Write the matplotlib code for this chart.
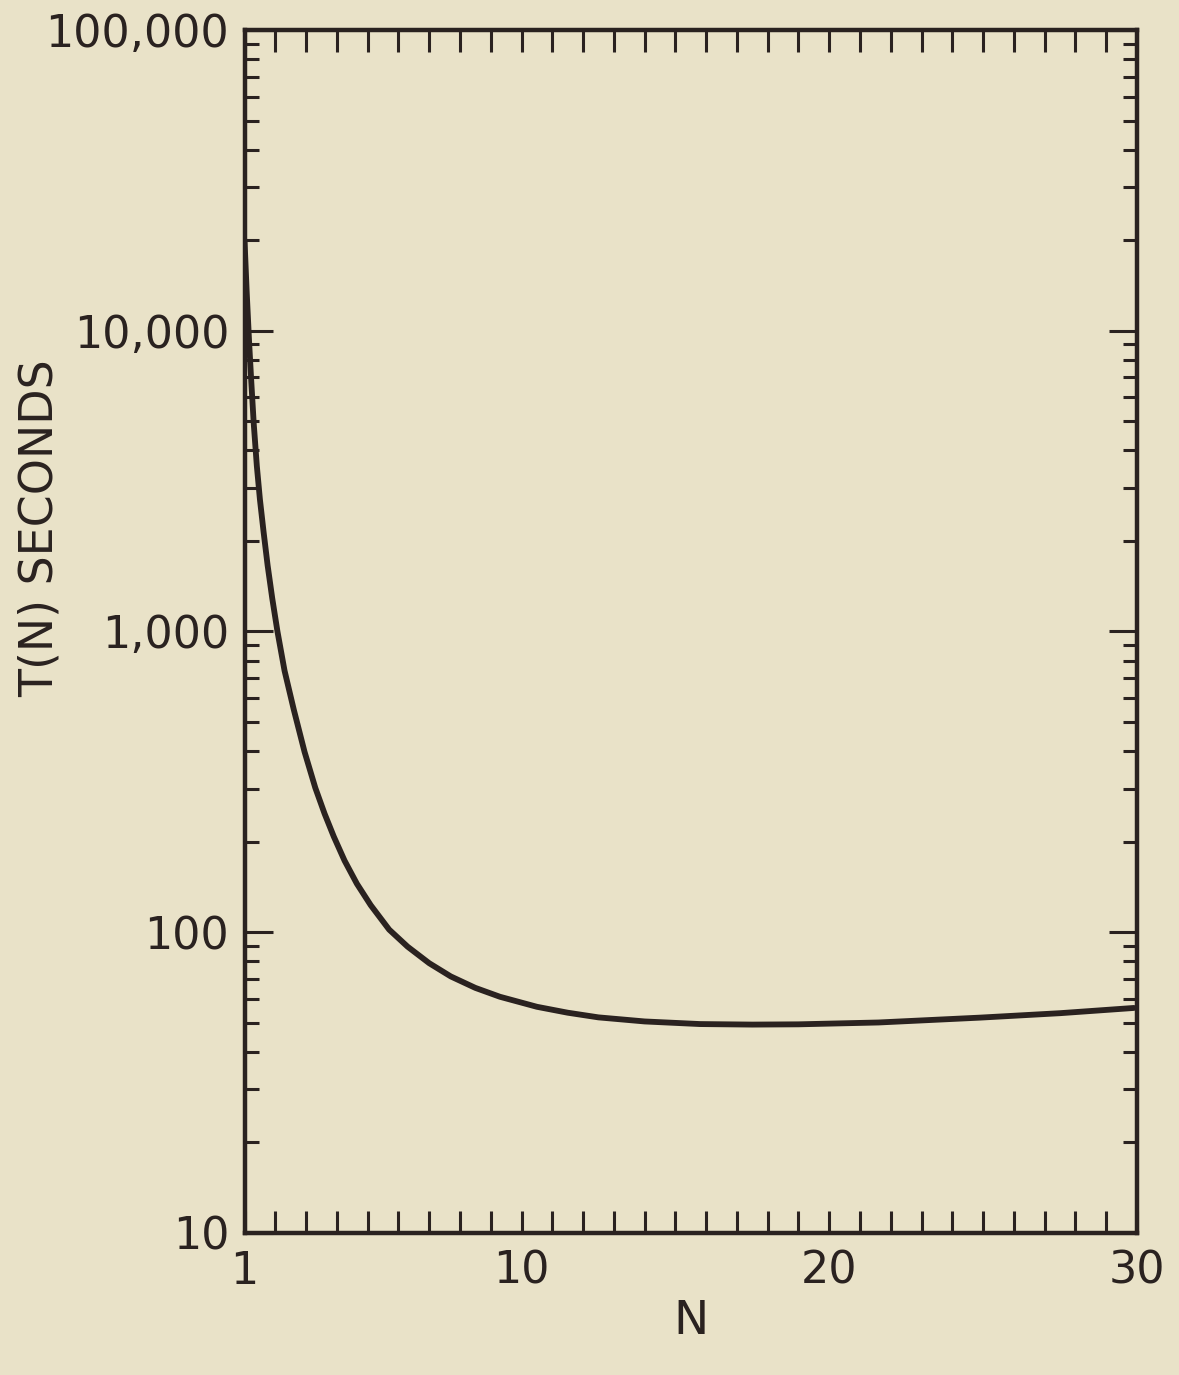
"""T(N) vs N on a log scale, redrawn from a scanned plot."""

import matplotlib
matplotlib.use("Agg")
import matplotlib.pyplot as plt
from matplotlib.ticker import FixedLocator, FixedFormatter, LogLocator, NullFormatter

# values
n_vals = [1.0, 1.07, 1.15, 1.22, 1.3, 1.4, 1.5, 1.62, 1.75, 1.9, 2.07, 2.3,
          2.6, 2.95, 3.3, 3.6, 3.9, 4.25, 4.65, 5.1, 5.7, 6.3, 7.0, 7.7,
          8.5, 9.3, 10.5, 11.5, 12.5, 14.0, 15.8, 17.5, 19.0, 21.6, 24.9,
          27.5, 29.9]
t_vals = [20000, 13490, 9120, 6760, 4900, 3550, 2750, 2140, 1660, 1290, 1000,
          741, 550, 398, 302, 248, 208, 173, 145, 123, 102, 89.5, 78.9, 71.3,
          65.3, 61.0, 56.5, 54.0, 52.1, 50.5, 49.5, 49.3, 49.4, 50.1, 52.0,
          53.8, 56.0]

x_ticks = [1, 10, 20, 30]
x_labels = ["1", "10", "20", "30"]
y_ticks = [10, 100, 1000, 10000, 100000]
y_labels = ["10", "100", "1,000", "10,000", "100,000"]

paper = "#e9e2c8"
ink = "#2a2220"

plt.rcParams["font.family"] = ["DejaVu Sans"]

fig = plt.figure(figsize=(11.79, 13.75), dpi=100, facecolor=paper)
ax = fig.add_axes([0.2074, 0.1033, 0.757, 0.8749], facecolor=paper)

ax.plot(n_vals, t_vals, color=ink, lw=4.2, solid_joinstyle="round",
        solid_capstyle="round")

ax.set_yscale("log")
ax.set_xlim(1, 30)
ax.set_ylim(10, 100000)

ax.xaxis.set_major_locator(FixedLocator(x_ticks))
ax.xaxis.set_major_formatter(FixedFormatter(x_labels))
ax.xaxis.set_minor_locator(FixedLocator(range(1, 31)))
ax.yaxis.set_major_locator(FixedLocator(y_ticks))
ax.yaxis.set_major_formatter(FixedFormatter(y_labels))
ax.yaxis.set_minor_locator(LogLocator(base=10, subs=range(2, 10)))
ax.yaxis.set_minor_formatter(NullFormatter())

for s in ax.spines.values():
    s.set_linewidth(3.2)
    s.set_color(ink)

ax.tick_params(axis="x", which="both", direction="in", top=True, bottom=True,
               length=16, width=2.2, color=ink, labelsize=32, labelcolor=ink,
               pad=12)
ax.tick_params(axis="y", which="major", direction="in", left=True, right=True,
               length=20, width=2.2, color=ink, labelsize=32, labelcolor=ink,
               pad=11)
ax.tick_params(axis="y", which="minor", direction="in", left=True, right=True,
               length=10, width=2.2, color=ink)

fig.text(690.75 / 1179, 1 - 1322 / 1375, "N", ha="center", va="center",
         fontsize=34, color=ink)
fig.text(40 / 1179, 1 - 528 / 1375, "T(N) SECONDS", ha="center", va="center",
         rotation=90, fontsize=33, color=ink)

fig.savefig("out.png", dpi=100, facecolor=paper)
